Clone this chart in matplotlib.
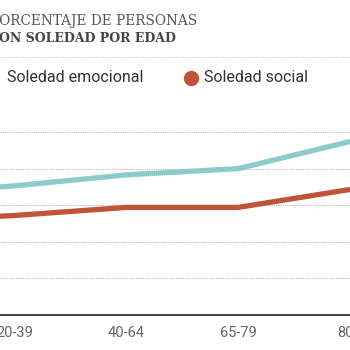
import matplotlib
matplotlib.use("Agg")
import matplotlib.pyplot as plt
from matplotlib.lines import Line2D

# age groups (the chart is cropped: the line keeps going past both edges)
positions = [-1, 0, 1, 2, 3]
age_labels = ["", "20-39", "40-64", "65-79", "80+"]
emocional = [33.0, 35.3, 38.3, 40.0, 47.4]
social = [25.6, 27.2, 29.4, 29.4, 34.3]
grid_values = [10, 20, 30, 40, 50]

teal = "#8ccbcc"
red = "#c1533b"
W = 350.0

fig = plt.figure(figsize=(3.5, 3.5), dpi=100)
ax = fig.add_axes([0, 35 / W, 1, 219.6 / W])

ax.plot(positions, emocional, color=teal, lw=3.8, solid_capstyle="butt", zorder=3)
ax.plot(positions, social, color=red, lw=3.8, solid_capstyle="butt", zorder=3)

ax.set_xlim(-16 / 120, 334 / 120)
ax.set_ylim(0, 60)
ax.set_yticks(grid_values)
ax.set_yticklabels([])
ax.tick_params(axis="y", length=0)
ax.yaxis.grid(True, color="#bbbbbb", linestyle=(0, (1, 1)), lw=0.8)
ax.set_xticks(positions[1:])
ax.set_xticklabels(age_labels[1:], fontsize=10.5, color="#666666", family="Roboto")
ax.tick_params(axis="x", length=0, pad=8)
for side in ["top", "right", "left"]:
    ax.spines[side].set_visible(False)
ax.spines["bottom"].set_color("#333333")
ax.spines["bottom"].set_linewidth(1.3)

# title (cropped at the left)
fig.text(-10 / W, 1 - 21 / W, "PORCENTAJE DE PERSONAS", family="DejaVu Serif",
         fontsize=9.8, color="#555555", va="center", ha="left")
fig.text(-11 / W, 1 - 39 / W, "CON SOLEDAD POR EDAD", family="DejaVu Serif",
         fontsize=9.0, color="#444444", weight="bold", va="center", ha="left")
fig.add_artist(Line2D([0, 1], [1 - 57 / W, 1 - 57 / W], transform=fig.transFigure,
                      color="#cccccc", linestyle=(0, (1, 1)), lw=0.8))

# legend
fig.add_artist(Line2D([-8 / W], [1 - 78 / W], transform=fig.transFigure, marker="o",
                      markersize=10, color=teal, lw=0))
fig.text(7 / W, 1 - 78 / W, "Soledad emocional", family="Roboto", fontsize=11.5,
         color="#333333", va="center")
fig.add_artist(Line2D([191 / W], [1 - 78 / W], transform=fig.transFigure, marker="o",
                      markersize=10, color=red, lw=0))
fig.text(204 / W, 1 - 78 / W, "Soledad social", family="Roboto", fontsize=11.5,
         color="#333333", va="center")

fig.savefig("out.png", dpi=100)
